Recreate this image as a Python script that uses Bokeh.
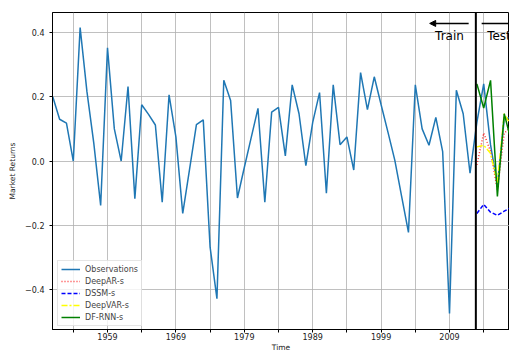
from bokeh.plotting import figure
from bokeh.models import (Range1d, FixedTicker, CustomJSTickFormatter, Span, Arrow,
                          NormalHead, Label, Legend)
from bokeh.embed import file_html
from bokeh.resources import INLINE

# ---- data ----
obs_years = list(range(1951, 2019))
obs_values = [0.20, 0.13, 0.118, 0.0, 0.415, 0.215, 0.055, -0.138, 0.352, 0.10,
              0.0, 0.232, -0.117, 0.175, 0.145, 0.112, -0.128, 0.206, 0.075, -0.163,
              -0.025, 0.113, 0.128, -0.268, -0.428, 0.251, 0.188, -0.115, -0.02, 0.072,
              0.164, -0.128, 0.152, 0.167, 0.016, 0.237, 0.147, -0.014, 0.12, 0.213,
              -0.10, 0.237, 0.051, 0.075, -0.028, 0.275, 0.16, 0.262, 0.175, 0.09,
              0.003, -0.11, -0.222, 0.237, 0.10, 0.049, 0.136, 0.029, -0.474, 0.22,
              0.147, -0.038, 0.12, 0.24, 0.05, -0.075, 0.13, 0.137]
test_years = [2013, 2014, 2015, 2016, 2017, 2018]
deepar_s = [-0.012, 0.087, 0.03, -0.09, 0.087, 0.105]
dssm_s = [-0.163, -0.135, -0.159, -0.169, -0.156, -0.144]
deepvar_s = [0.044, 0.049, 0.024, -0.068, 0.147, 0.11]
dfrnn_s = [0.24, 0.165, 0.251, -0.11, 0.147, 0.065]
split_year = 2012.85
major_years = [1959, 1969, 1979, 1989, 1999, 2009]
minor_years = [1954, 1964, 1974, 1984, 1994, 2004, 2014]
y_ticks = [-0.4, -0.2, 0.0, 0.2, 0.4]

FONT = "DejaVu Sans"

p = figure(width=509, height=354, output_backend="svg", toolbar_location=None,
           x_range=Range1d(1950.96, 2017.77), y_range=Range1d(-0.524, 0.462),
           min_border_left=52, min_border_right=0, min_border_top=12, min_border_bottom=24)
p.outline_line_color = "black"
p.outline_line_width = 1

# axes
p.xaxis.ticker = FixedTicker(ticks=major_years, minor_ticks=minor_years)
p.yaxis.ticker = FixedTicker(ticks=y_ticks, minor_ticks=[])
p.yaxis.formatter = CustomJSTickFormatter(code="return tick.toFixed(1).replace('-', '\u2212');")
for ax in (p.xaxis[0], p.yaxis[0]):
    ax.axis_line_color = "black"
    ax.major_tick_line_color = "black"
    ax.major_tick_out = 3
    ax.major_tick_in = 0
    ax.major_label_text_font = FONT
    ax.major_label_text_font_size = "8px"
    ax.major_label_text_color = "#222222"
    ax.axis_label_text_font = FONT
    ax.axis_label_text_font_size = "7.5px"
    ax.axis_label_text_font_style = "normal"
    ax.axis_label_text_color = "#222222"
p.xaxis.minor_tick_line_color = "black"
p.xaxis.minor_tick_out = 3
p.xaxis.minor_tick_in = 0
p.yaxis.minor_tick_line_color = None
p.xaxis.major_label_standoff = 0
p.xaxis.axis_label_standoff = 0
p.yaxis.major_label_standoff = 5
p.yaxis.axis_label_standoff = 5
p.xaxis.axis_label = "Time"
p.yaxis.axis_label = "Market Returns"

# grid
p.xgrid.grid_line_color = "#b0b0b0"
p.xgrid.grid_line_width = 0.8
p.xgrid.minor_grid_line_color = "#b0b0b0"
p.xgrid.minor_grid_line_width = 0.8
p.ygrid.grid_line_color = "#b0b0b0"
p.ygrid.grid_line_width = 0.8

# lines
r_obs = p.line(obs_years, obs_values, line_color="#1f77b4", line_width=1.5)
r_ar = p.line(test_years, deepar_s, line_color="red", line_width=1.5, line_dash="1 2", line_alpha=0.8)
r_ssm = p.line(test_years, dssm_s, line_color="blue", line_width=1.5, line_dash="4 2")
r_var = p.line(test_years, deepvar_s, line_color="yellow", line_width=1.5, line_dash="6 2 2 2")
r_rnn = p.line(test_years, dfrnn_s, line_color="green", line_width=1.5)

# split line and annotations
p.add_layout(Span(location=split_year, dimension="height", line_color="black", line_width=2))
p.add_layout(Arrow(end=NormalHead(size=6, fill_color="black", line_color="black"),
                   x_start=2011.8, y_start=0.428, x_end=2006.1, y_end=0.428,
                   line_color="black", line_width=1.5))
p.add_layout(Arrow(end=NormalHead(size=6, fill_color="black", line_color="black"),
                   x_start=2013.7, y_start=0.428, x_end=2020.5, y_end=0.428,
                   line_color="black", line_width=1.5))
p.add_layout(Label(x=2009.0, y=0.388, text="Train", text_align="center", text_baseline="middle",
                   text_font=FONT, text_font_size="12px", text_color="black"))
p.add_layout(Label(x=2014.5, y=0.388, text="Test", text_align="left", text_baseline="middle",
                   text_font=FONT, text_font_size="12px", text_color="black"))

legend = Legend(items=[("Observations", [r_obs]), ("DeepAR-s", [r_ar]), ("DSSM-s", [r_ssm]),
                       ("DeepVAR-s", [r_var]), ("DF-RNN-s", [r_rnn])],
                location=(5, 3), margin=0, padding=3, spacing=2,
                glyph_width=19, glyph_height=10, label_height=10, label_standoff=5,
                label_text_font=FONT, label_text_font_size="8px",
                border_line_color="#cccccc", border_line_width=1,
                background_fill_alpha=0.8)
p.add_layout(legend, "center")

open("out.html", "w").write(file_html(p, INLINE))
